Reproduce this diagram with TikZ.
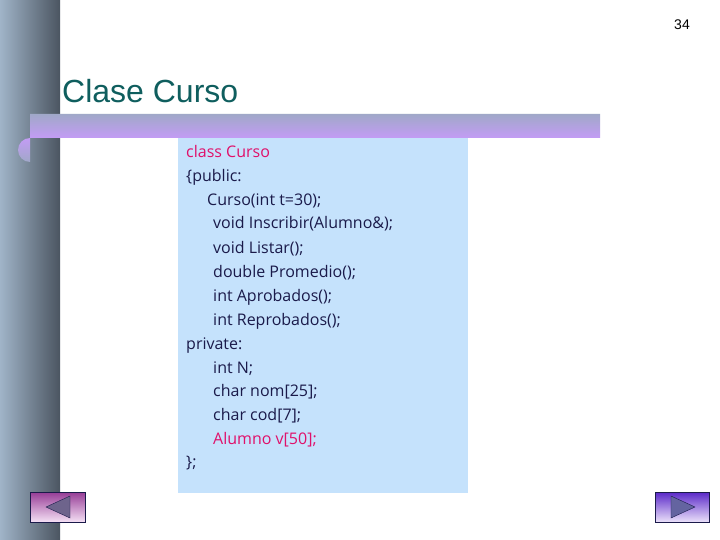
\documentclass[tikz,border=0pt]{standalone}
\usepackage{fontspec}
\setmainfont{Liberation Sans}
\newfontfamily\codefont{Open Sans}
\definecolor{teal1}{HTML}{0F5E5E}
\definecolor{lav}{HTML}{C39CF5}
\definecolor{lavg}{HTML}{A0A8C8}
\definecolor{codebg}{HTML}{C5E2FC}
\definecolor{pink1}{HTML}{E0106A}
\definecolor{ink}{HTML}{1A1A4A}
\tikzset{codeline/.style={anchor=base west,inner sep=0pt,font=\codefont\fontsize{16}{16}\selectfont,text=ink},
btn/.style={draw=ink,line width=1pt}}
\begin{document}
\begin{tikzpicture}[x=1pt,y=-1pt]
\useasboundingbox (0,0) rectangle (720,540);
\fill[white] (0,0) rectangle (720,540);
\shade[left color={rgb,255:red,160;green,180;blue,200},right color={rgb,255:red,75;green,85;blue,97}] (0,0) rectangle (60,540);
\node[anchor=base west,inner sep=0pt,font=\fontsize{32}{32}\selectfont,text=teal1] (title) at (62,103) {Clase Curso};
\node[anchor=center,font=\fontsize{14}{14}\selectfont] (num) at (682,25) {34};
\shade[top color=lavg,bottom color=lavg,middle color=lav] (30,114) -- (600,114) -- (600,138) -- (30,138) arc[start angle=270,end angle=90,radius=12] -- cycle;
\fill[codebg] (178,138) rectangle (468,493);
\node[codeline,text=pink1] (l1) at (186,158) {class Curso};
\node[codeline] at (186,182) {\{public:};
\node[codeline] at (207,206) {Curso(int t=30);};
\node[codeline] at (213,229) {void Inscribir(Alumno\&);};
\node[codeline] at (213,253) {void Listar();};
\node[codeline] at (213,277) {double Promedio();};
\node[codeline] at (213,301) {int Aprobados();};
\node[codeline] at (213,325) {int Reprobados();};
\node[codeline] at (186,349) {private:};
\node[codeline] at (213,373) {int N;};
\node[codeline] at (213,396) {char nom[25];};
\node[codeline] at (213,420) {char cod[7];};
\node[codeline,text=pink1] at (213,444) {Alumno v[50];};
\node[codeline] at (186,467) {\};};
\shade[top color={rgb,255:red,150;green,60;blue,150},bottom color={rgb,255:red,245;green,225;blue,245}] (30,492) rectangle (85,522);
\draw[btn] (30,492) rectangle (85,522);
\filldraw[draw=ink,fill={rgb,255:red,110;green,100;blue,140}] (70,496) -- (70,518) -- (46,507) -- cycle;
\shade[top color={rgb,255:red,90;green,40;blue,200},bottom color={rgb,255:red,235;green,225;blue,250}] (655,492) rectangle (709,522);
\draw[btn] (655,492) rectangle (709,522);
\filldraw[draw=ink,fill={rgb,255:red,100;green,100;blue,160}] (671,496) -- (671,518) -- (695,507) -- cycle;
\end{tikzpicture}
\end{document}
